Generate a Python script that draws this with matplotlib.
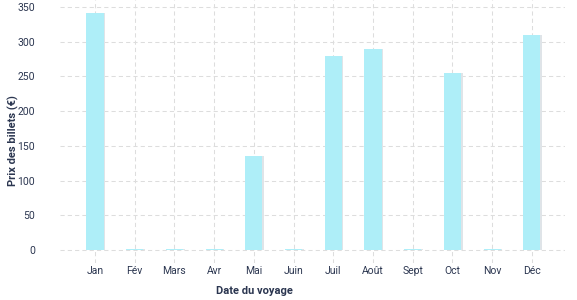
import numpy as np
import matplotlib.pyplot as plt

mois = ['Jan', 'Fév', 'Mars', 'Avr', 'Mai', 'Juin', 'Juil', 'Août', 'Sept', 'Oct', 'Nov', 'Déc']
prix = [341, 1.5, 1.5, 1.5, 135, 1.5, 280, 289, 1.5, 255, 1.5, 310]

txt = '#2b3650'
plt.rcParams['font.family'] = ['Roboto', 'DejaVu Sans']

fig = plt.figure(figsize=(5.77, 3.0), dpi=100)
ax = fig.add_axes([0.104, 0.123, 0.875, 0.877])

x = np.arange(len(mois))
w = 0.43
# petite ombre à droite des barres
ax.bar(x + 0.04, prix, width=w, color='#dfe4e8', zorder=2)
ax.bar(x, prix, width=w, color='#aeeef8', zorder=3)

ax.set_xlim(-0.88, 11.83)
ax.set_ylim(-18.7, 360)
ax.set_yticks(range(0, 351, 50))
ax.set_xticks(x)
ax.set_xticklabels(mois)

ax.grid(True, color='#dddddd', linestyle=(0, (4, 3)), linewidth=0.75, zorder=0)
for s in ax.spines.values():
    s.set_visible(False)
ax.tick_params(axis='both', length=0, labelsize=7.5, colors=txt)
ax.tick_params(axis='y', pad=18)
ax.tick_params(axis='x', pad=2)

ax.set_xlabel('Date du voyage', fontsize=8, fontweight='bold', color=txt)
ax.xaxis.set_label_coords(0.386, -0.088)
ax.set_ylabel('Prix des billets (€)', fontsize=8, fontweight='bold', color=txt)
ax.yaxis.set_label_coords(-0.082, 0.464)

fig.savefig('out.png', dpi=100)
